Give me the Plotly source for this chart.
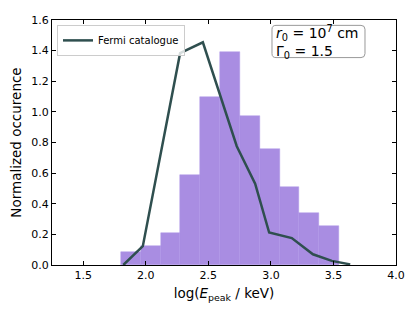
import plotly.graph_objects as go

# Histogram (simulated) data
bin_left = 1.802
bin_width = 0.1584
hist_heights = [0.083, 0.125, 0.21, 0.59, 1.098, 1.39, 0.97, 0.76, 0.51, 0.338, 0.253]

# Fermi catalogue line
fermi_x = [1.82, 1.976, 2.274, 2.456, 2.727, 2.874, 2.986, 3.167, 3.336, 3.487, 3.634]
fermi_y = [0.0, 0.123, 1.383, 1.454, 0.776, 0.531, 0.212, 0.176, 0.07, 0.027, 0.004]

x_ticks = [1.5, 2.0, 2.5, 3.0, 3.5, 4.0]
y_ticks = [0.0, 0.2, 0.4, 0.6, 0.8, 1.0, 1.2, 1.4, 1.6]

centers = [bin_left + bin_width * (i + 0.5) for i in range(len(hist_heights))]

W, H = 415, 312
OFF = 8  # page body offset
PL, PR, PT, PB = 52, 396, 14, 265  # desired plot area on screen
ml, mt = PL - OFF, PT - OFF
mr = W - (PR - OFF)
mb = H - (PB - OFF)

fig = go.Figure()
fig.add_trace(go.Bar(
    x=centers, y=hist_heights, width=[bin_width] * len(hist_heights),
    marker=dict(color="rgba(147,112,219,0.8)", line=dict(width=0.5, color="rgba(178,155,232,1)")),
    showlegend=False, hoverinfo="skip"))
fig.add_trace(go.Scatter(
    x=fermi_x, y=fermi_y, mode="lines", name="Fermi catalogue",
    line=dict(color="#2F4F4F", width=2.5)))

font = "DejaVu Sans, Arial, sans-serif"


def px_to_paper(x, y):
    return (x - PL) / (PR - PL), 1 - (y - PT) / (PB - PT)


lx, ly = px_to_paper(57, 19)
fig.update_layout(
    width=W, height=H,
    margin=dict(l=ml, r=mr, t=mt, b=mb),
    paper_bgcolor="white", plot_bgcolor="white",
    font=dict(family=font, color="black", size=11),
    bargap=0,
    xaxis=dict(range=[1.25, 4.0], tickvals=x_ticks, ticktext=[f"{v:.1f}" for v in x_ticks],
               ticks="inside", ticklen=4, tickwidth=1, tickcolor="black",
               showline=True, linecolor="black", linewidth=1.2, mirror="ticks",
               showgrid=False, zeroline=False, tickfont=dict(size=11),
               ticklabeloverflow="allow",
               title=dict(text="log(<i>E</i><sub>peak</sub> / keV)", font=dict(size=13.5), standoff=7)),
    yaxis=dict(range=[0, 1.6], tickvals=y_ticks, ticktext=[f"{v:.1f}" for v in y_ticks],
               ticks="inside", ticklen=4, tickwidth=1, tickcolor="black",
               showline=True, linecolor="black", linewidth=1.2, mirror="ticks",
               showgrid=False, zeroline=False, tickfont=dict(size=11),
               ticklabeloverflow="allow",
               title=dict(text="Normalized occurence", font=dict(size=13.5), standoff=6)),
    legend=dict(x=lx, y=ly, xanchor="left", yanchor="top",
                bgcolor="rgba(255,255,255,0.8)", bordercolor="#cccccc", borderwidth=1,
                font=dict(size=10), itemwidth=30, tracegroupgap=0),
)

# rounded text box
x0, y0, x1, y1, r = 272, 19.5, 365, 52.5, 4


def P(x, y):
    px, py = px_to_paper(x, y)
    return f"{px:.5f},{py:.5f}"


path = (f"M {P(x0 + r, y0)} L {P(x1 - r, y0)} Q {P(x1, y0)} {P(x1, y0 + r)} "
        f"L {P(x1, y1 - r)} Q {P(x1, y1)} {P(x1 - r, y1)} L {P(x0 + r, y1)} "
        f"Q {P(x0, y1)} {P(x0, y1 - r)} L {P(x0, y0 + r)} Q {P(x0, y0)} {P(x0 + r, y0)} Z")
fig.add_shape(type="path", path=path, xref="paper", yref="paper",
              line=dict(color="#999999", width=1), fillcolor="rgba(255,255,255,0.8)")
ax, ay = px_to_paper(274, 36.5)
fig.add_annotation(x=ax, y=ay, xref="paper", yref="paper", xanchor="left", yanchor="middle",
                   align="left", showarrow=False,
                   text="<i>r</i><sub>0</sub> = 10<sup>7</sup> cm<br>Γ<sub>0</sub> = 1.5",
                   font=dict(size=14, family=font, color="black"))

fig.write_html("out.html")
